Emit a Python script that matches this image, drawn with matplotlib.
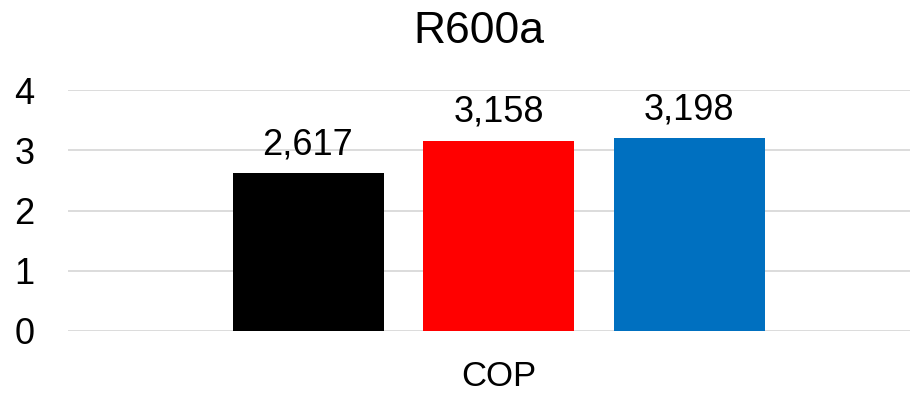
import matplotlib
matplotlib.use("Agg")
import matplotlib.pyplot as plt

plt.rcParams['font.family'] = ['Liberation Sans', 'DejaVu Sans']

title = "R600a"
category = "COP"
values = [2.617, 3.158, 3.198]
labels = ["2,617", "3,158", "3,198"]
colors = ["#000000", "#FF0000", "#0070C0"]
yticks = [0, 1, 2, 3, 4]

W, H = 918, 394
fig = plt.figure(figsize=(W / 100, H / 100), dpi=100)

# plot area in pixels: left 68, right 910, top 90, bottom 331
left, right, top, bottom = 68, 910, 90, 331
ax = fig.add_axes([left / W, (H - bottom) / H, (right - left) / W, (bottom - top) / H])

step = 190.5      # px between bar centres
centre = 498.5    # px of the middle bar
x = list(range(len(values)))
ax.bar(x, values, width=151 / step, color=colors, zorder=3)
ax.set_xlim(1 - (centre - left) / step, 1 + (right - centre) / step)
ax.set_ylim(0, 4)

ax.set_yticks(yticks)
ax.set_yticklabels([str(t) for t in yticks], fontsize=26)
ax.tick_params(axis='y', length=0, pad=24)
ax.set_xticks([])
ax.grid(axis='y', color='#d9d9d9', linewidth=1.3, zorder=0)
for s in ax.spines.values():
    s.set_visible(False)

for xi, v, lab in zip(x, values, labels):
    ax.annotate(lab, xy=(xi, v), xytext=(0, 13.7), textcoords='offset points',
                ha='center', va='baseline', fontsize=26)

ax.annotate(category, xy=(1, 0), xytext=(0, -39.5), textcoords='offset points',
            ha='center', va='baseline', fontsize=25)

fig.text(478.5 / W, (H - 43) / H, title, ha='center', va='baseline', fontsize=32)

fig.savefig("out.png", dpi=100)
